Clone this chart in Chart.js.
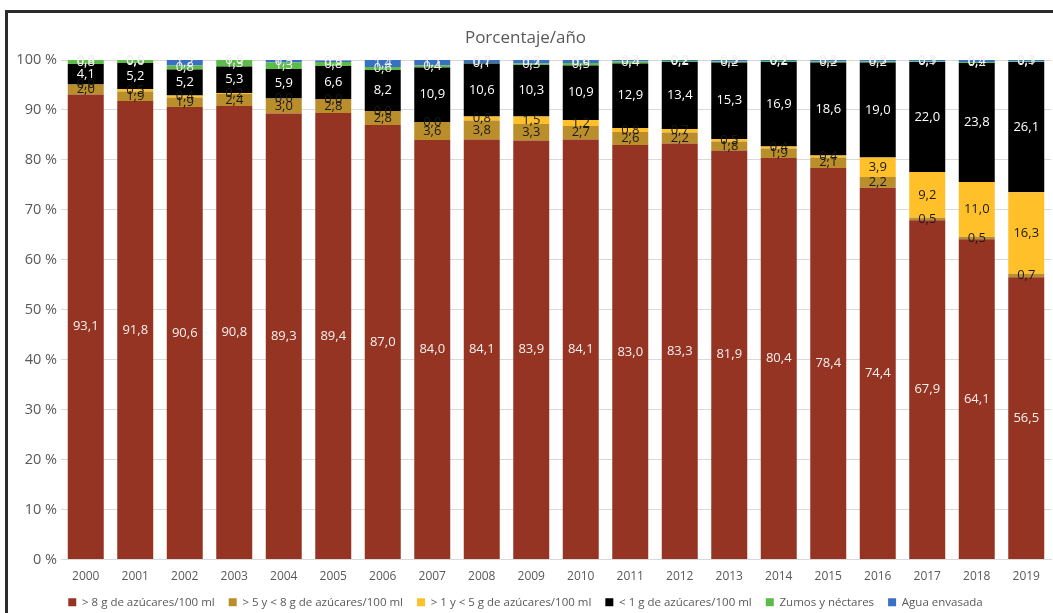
<!DOCTYPE html>
<html>
<head>
<meta charset="utf-8">
<script src="https://cdn.jsdelivr.net/npm/chart.js@4.4.0/dist/chart.umd.min.js"></script>
<style>
  html, body { margin: 0; padding: 0; background: #fff; }
  #wrap { position: relative; width: 1053px; height: 613px; overflow: hidden; }
  #frame { position: absolute; left: 5px; top: 10px; width: 1100px; height: 700px;
           border-left: 3px solid #2b2b2b; border-top: 3px solid #2b2b2b; pointer-events: none; }
  canvas { position: absolute; left: 0; top: 0; }
</style>
</head>
<body>
<div id="wrap">
  <canvas id="c" width="1053" height="613"></canvas>
  <div id="frame"></div>
</div>
<script>
const years = ['2000','2001','2002','2003','2004','2005','2006','2007','2008','2009','2010','2011','2012','2013','2014','2015','2016','2017','2018','2019'];
const seriesNames = ['> 8 g de azúcares/100 ml', '> 5 y < 8 g de azúcares/100 ml', '> 1 y < 5 g de azúcares/100 ml', '< 1 g de azúcares/100 ml', 'Zumos y néctares', 'Agua envasada'];
const over8   = [93.1, 91.8, 90.6, 90.8, 89.3, 89.4, 87.0, 84.0, 84.1, 83.9, 84.1, 83.0, 83.3, 81.9, 80.4, 78.4, 74.4, 67.9, 64.1, 56.5];
const from5to8 = [2.0, 1.9, 1.9, 2.4, 3.0, 2.8, 2.8, 3.6, 3.8, 3.3, 2.7, 2.6, 2.2, 1.8, 1.9, 2.1, 2.2, 0.5, 0.5, 0.7];
const from1to5 = [0.0, 0.5, 0.4, 0.2, 0.0, 0.0, 0.0, 0.0, 0.8, 1.5, 1.2, 0.8, 0.7, 0.5, 0.4, 0.4, 3.9, 9.2, 11.0, 16.3];
const under1  = [4.1, 5.2, 5.2, 5.3, 5.9, 6.6, 8.2, 10.9, 10.6, 10.3, 10.9, 12.9, 13.4, 15.3, 16.9, 18.6, 19.0, 22.0, 23.8, 26.1];
const zumos   = [0.8, 0.6, 0.8, 1.3, 1.3, 0.8, 0.6, 0.4, 0.1, 0.3, 0.5, 0.4, 0.2, 0.2, 0.2, 0.2, 0.2, 0.1, 0.2, 0.1];
const agua    = [0.0, 0.0, 1.2, 0.0, 0.5, 0.3, 1.4, 1.1, 0.7, 0.7, 0.6, 0.3, 0.2, 0.3, 0.2, 0.3, 0.3, 0.3, 0.4, 0.3];
const yTicks = [0, 10, 20, 30, 40, 50, 60, 70, 80, 90, 100];

const colors = ['#953422', '#BA8E2A', '#FFC02A', '#000000', '#5DBB4A', '#3A70C2'];
const labelColors = ['#f8f0ee', '#1a1a1a', '#1a1a1a', '#ffffff', '#f0f0f0', '#f0f0f0'];
const FONT = "'Open Sans', sans-serif";

const seriesData = [over8, from5to8, from1to5, under1, zumos, agua];
const datasets = seriesData.map((d, i) => ({
  label: seriesNames[i],
  data: d,
  backgroundColor: colors[i],
  borderWidth: 0,
  barPercentage: 0.727,
  categoryPercentage: 1.0
}));

const fmt = v => v.toFixed(1).replace('.', ',');

const labelPlugin = {
  id: 'valueLabels',
  afterDatasetsDraw(chart) {
    const ctx = chart.ctx;
    ctx.save();
    ctx.font = "13px " + FONT;
    ctx.textAlign = 'center';
    ctx.textBaseline = 'middle';
    chart.data.datasets.forEach((ds, i) => {
      const meta = chart.getDatasetMeta(i);
      meta.data.forEach((bar, j) => {
        const v = ds.data[j];
        const yc = (bar.y + bar.base) / 2;
        ctx.fillStyle = labelColors[i];
        ctx.fillText(fmt(v), bar.x, yc);
      });
    });
    ctx.restore();
  }
};

new Chart(document.getElementById('c'), {
  type: 'bar',
  data: { labels: years, datasets },
  plugins: [labelPlugin],
  options: {
    responsive: false,
    animation: false,
    layout: { padding: { left: 0, right: 2, top: 0, bottom: -5 } },
    plugins: {
      tooltip: { enabled: false },
      title: {
        display: true,
        text: 'Porcentaje/año',
        color: '#595959',
        font: { family: FONT, size: 17, weight: 'normal' },
        padding: { top: 28, bottom: 11.6 }
      },
      legend: {
        position: 'bottom',
        labels: {
          color: '#595959',
          font: { family: FONT, size: 11.5 },
          boxWidth: 8,
          boxHeight: 8,
          padding: 14
        }
      }
    },
    scales: {
      x: {
        stacked: true,
        afterFit(scale) { scale.height = 23; },
        grid: { display: false },
        border: { color: '#d9d9d9' },
        ticks: { color: '#595959', font: { family: FONT, size: 12 }, padding: 2, maxRotation: 0 }
      },
      y: {
        stacked: true,
        min: 0,
        max: 100,
        afterFit(scale) { scale.width = 61; },
        afterBuildTicks(scale) { scale.ticks = yTicks.map(v => ({ value: v })); },
        grid: { color: '#d9d9d9', drawTicks: false },
        border: { display: false },
        ticks: {
          color: '#595959',
          font: { family: FONT, size: 14.5 },
          padding: 4,
          callback: v => v + ' %'
        }
      }
    }
  }
});
</script>
</body>
</html>
